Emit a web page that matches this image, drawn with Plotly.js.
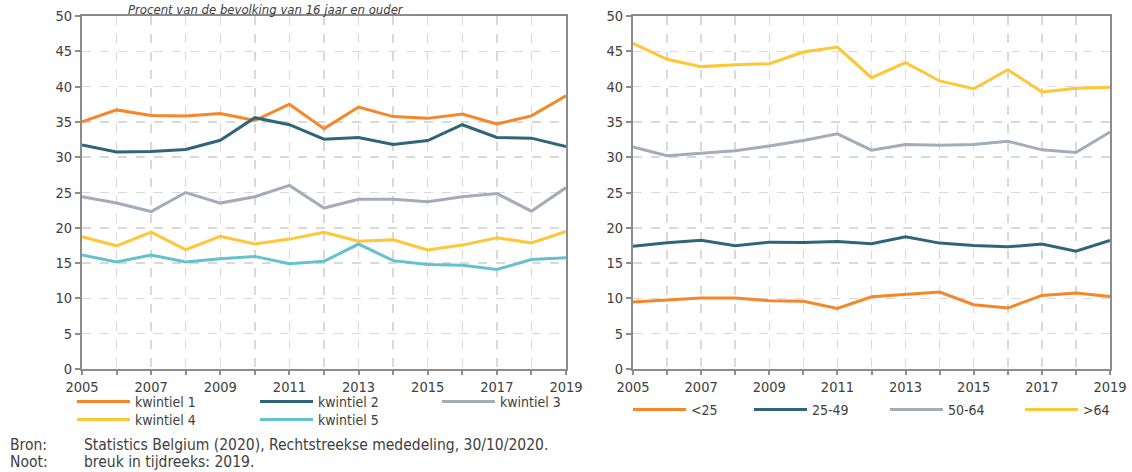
<!DOCTYPE html>
<html>
<head>
<meta charset="utf-8">
<script src="https://cdn.plot.ly/plotly-3.0.1.min.js"></script>
<style>
  html, body { margin: 0; padding: 0; background: #fff; }
  #chart { width: 1132px; height: 472px; }
</style>
</head>
<body>
<div id="chart"></div>
<script>
const years = [2005, 2006, 2007, 2008, 2009, 2010, 2011, 2012, 2013, 2014, 2015, 2016, 2017, 2018, 2019];

// Left panel: income quintiles
const kwintiel1 = [35.0, 36.7, 35.9, 35.85, 36.2, 35.2, 37.5, 34.05, 37.1, 35.75, 35.5, 36.1, 34.7, 35.85, 38.7];
const kwintiel2 = [31.75, 30.75, 30.8, 31.1, 32.4, 35.6, 34.6, 32.55, 32.8, 31.8, 32.35, 34.6, 32.8, 32.7, 31.5];
const kwintiel3 = [24.4, 23.5, 22.3, 25.0, 23.5, 24.4, 26.0, 22.8, 24.05, 24.05, 23.7, 24.4, 24.85, 22.35, 25.7];
const kwintiel4 = [18.73, 17.45, 19.4, 16.9, 18.8, 17.7, 18.4, 19.35, 18.1, 18.3, 16.85, 17.55, 18.6, 17.85, 19.5];
const kwintiel5 = [16.15, 15.15, 16.15, 15.15, 15.6, 15.95, 14.9, 15.25, 17.7, 15.35, 14.8, 14.7, 14.1, 15.5, 15.75];

// Right panel: age groups
const age_lt25 = [9.48, 9.76, 10.05, 10.05, 9.67, 9.58, 8.58, 10.24, 10.61, 10.9, 9.1, 8.63, 10.42, 10.75, 10.28];
const age_25_49 = [17.4, 17.88, 18.25, 17.45, 17.97, 17.92, 18.07, 17.74, 18.73, 17.83, 17.5, 17.3, 17.7, 16.7, 18.2];
const age_50_64 = [31.46, 30.2, 30.57, 30.9, 31.6, 32.36, 33.3, 30.99, 31.8, 31.7, 31.8, 32.26, 31.04, 30.66, 33.58];
const age_gt64 = [46.13, 43.87, 42.83, 43.1, 43.25, 44.9, 45.6, 41.27, 43.4, 40.8, 39.7, 42.4, 39.25, 39.75, 39.9];

const leftNames = ['kwintiel 1', 'kwintiel 2', 'kwintiel 3', 'kwintiel 4', 'kwintiel 5'];
const rightNames = ['<25', '25-49', '50-64', '>64'];

const xTickVals = years;
const xTickText = years.map(y => (y % 2 === 1 ? String(y) : ''));
const yTickVals = [0, 5, 10, 15, 20, 25, 30, 35, 40, 45, 50];

const C_ORANGE = '#f5862a';
const C_TEAL = '#2f6579';
const C_GRAY = '#a2adb9';
const C_YELLOW = '#ffc637';
const C_LIGHTBLUE = '#66c1cf';

const FONT = 'DejaVu Sans Condensed, DejaVu Sans, sans-serif';
const TXT = '#404040';

function tr(y, name, color, xa, ya, legend) {
  return {
    x: years, y: y, name: name, type: 'scatter', mode: 'lines',
    line: { color: color, width: 3 },
    xaxis: xa, yaxis: ya, legend: legend, hoverinfo: 'x+y+name'
  };
}

const data = [
  tr(kwintiel1, leftNames[0], C_ORANGE, 'x', 'y', 'legend'),
  tr(kwintiel2, leftNames[1], C_TEAL, 'x', 'y', 'legend2'),
  tr(kwintiel3, leftNames[2], C_GRAY, 'x', 'y', 'legend3'),
  tr(kwintiel4, leftNames[3], C_YELLOW, 'x', 'y', 'legend4'),
  tr(kwintiel5, leftNames[4], C_LIGHTBLUE, 'x', 'y', 'legend5'),
  tr(age_lt25, rightNames[0], C_ORANGE, 'x2', 'y2', 'legend6'),
  tr(age_25_49, rightNames[1], C_TEAL, 'x2', 'y2', 'legend7'),
  tr(age_50_64, rightNames[2], C_GRAY, 'x2', 'y2', 'legend8'),
  tr(age_gt64, rightNames[3], C_YELLOW, 'x2', 'y2', 'legend9')
];

function xaxis(domain, anchor) {
  return {
    domain: domain, anchor: anchor, range: [2005, 2019],
    tickmode: 'array', tickvals: xTickVals, ticktext: xTickText,
    showgrid: true, gridcolor: '#d9d9d9', gridwidth: 1.5, griddash: 'dash',
    showline: true, linecolor: '#8c8c8c', linewidth: 2, mirror: true,
    ticks: 'outside', ticklen: 4, tickcolor: '#8c8c8c', tickwidth: 2,
    zeroline: false,
    tickfont: { family: FONT, size: 14.5, color: TXT }, fixedrange: true
  };
}
function yaxis(domain, anchor) {
  return {
    domain: domain, anchor: anchor, range: [0, 50],
    tickmode: 'array', tickvals: yTickVals,
    showgrid: true, gridcolor: '#d9d9d9', gridwidth: 1.5, griddash: 'dash',
    showline: true, linecolor: '#8c8c8c', linewidth: 2, mirror: true,
    ticks: 'outside', ticklen: 5, tickcolor: '#8c8c8c', tickwidth: 2,
    zeroline: false,
    tickfont: { family: FONT, size: 14.5, color: TXT }, fixedrange: true
  };
}

const W = 1132, H = 472;
const yDom = [1 - 369 / H, 1 - 16 / H];

function leg(xpx, ypx) {
  return {
    orientation: 'h', xanchor: 'left', yanchor: 'middle',
    x: xpx / W, y: 1 - ypx / H, itemwidth: 53,
    font: { family: FONT, size: 14, color: TXT },
    bgcolor: 'rgba(0,0,0,0)', borderwidth: 0, itemclick: false, itemdoubleclick: false
  };
}

const layout = {
  width: W, height: H,
  margin: { l: 0, r: 0, t: 0, b: 0 },
  paper_bgcolor: '#ffffff', plot_bgcolor: '#ffffff',
  font: { family: FONT, size: 14, color: TXT },
  showlegend: true,
  xaxis: xaxis([82 / W, 566 / W], 'y'),
  yaxis: yaxis(yDom, 'x'),
  xaxis2: xaxis([633 / W, 1110 / W], 'y2'),
  yaxis2: yaxis(yDom, 'x2'),
  legend: leg(72, 402),
  legend2: leg(255, 402),
  legend3: leg(437, 402),
  legend4: leg(72, 420),
  legend5: leg(255, 420),
  legend6: leg(628, 410),
  legend7: leg(749, 410),
  legend8: leg(885, 410),
  legend9: leg(1020, 410),
  annotations: [
    { text: '<i>Procent van de bevolking van 16 jaar en ouder</i>', xref: 'paper', yref: 'paper',
      x: 266 / W, y: 1, xanchor: 'center', yanchor: 'top', showarrow: false,
      font: { family: FONT, size: 13, color: TXT } },
    { text: 'Bron:', xref: 'paper', yref: 'paper', x: 8 / W, y: 1 - 445 / H,
      xanchor: 'left', yanchor: 'middle', showarrow: false, font: { family: FONT, size: 15.5, color: TXT } },
    { text: 'Statistics Belgium (2020), Rechtstreekse mededeling, 30/10/2020.', xref: 'paper', yref: 'paper',
      x: 82 / W, y: 1 - 445 / H, xanchor: 'left', yanchor: 'middle', showarrow: false,
      font: { family: FONT, size: 15.5, color: TXT } },
    { text: 'Noot:', xref: 'paper', yref: 'paper', x: 8 / W, y: 1 - 462 / H,
      xanchor: 'left', yanchor: 'middle', showarrow: false, font: { family: FONT, size: 15.5, color: TXT } },
    { text: 'breuk in tijdreeks: 2019.', xref: 'paper', yref: 'paper', x: 82 / W, y: 1 - 462 / H,
      xanchor: 'left', yanchor: 'middle', showarrow: false, font: { family: FONT, size: 15.5, color: TXT } }
  ]
};

Plotly.newPlot('chart', data, layout, { displayModeBar: false, staticPlot: true });
</script>
</body>
</html>
